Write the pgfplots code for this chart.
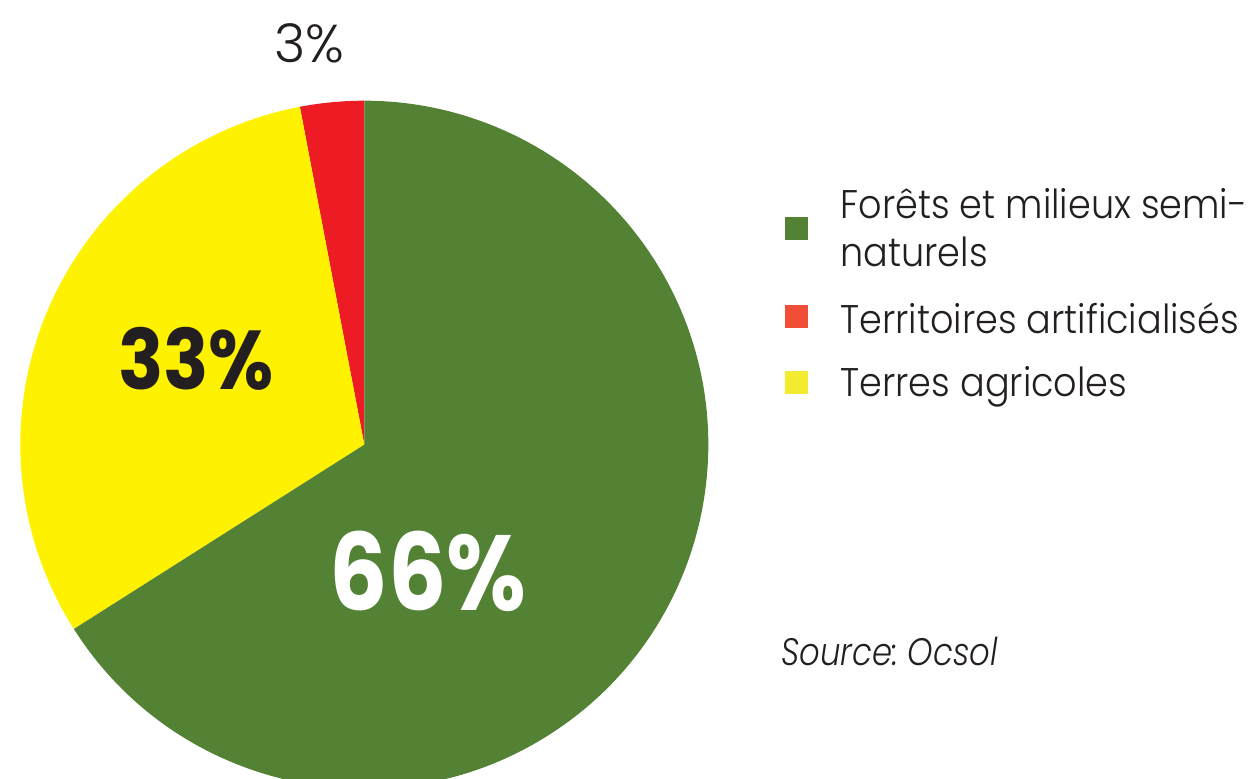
\documentclass[border=0pt]{standalone}
\usepackage{pgfplots}
\pgfplotsset{compat=1.18}
\usepackage{pgfplotstable}
\usepackage{fontspec}
\setmainfont{Poppins}
\newfontfamily\light{Poppins Light}
\definecolor{pgreen}{HTML}{548235}
\definecolor{pred}{HTML}{ED1C24}
\definecolor{pyellow}{HTML}{FFF200}
\definecolor{lred}{HTML}{F04E37}
\definecolor{lyellow}{HTML}{F2EB30}
\definecolor{txt}{HTML}{231F20}
\pgfplotstableread{
label value
forets 66
artificialises 3
agricoles 31
}\piedata
\begin{document}
\frenchspacing
\begin{tikzpicture}
\pgfplotstablegetelem{0}{value}\of\piedata \let\vG\pgfplotsretval
\pgfplotstablegetelem{1}{value}\of\piedata \let\vR\pgfplotsretval
\pgfplotstablegetelem{2}{value}\of\piedata \let\vY\pgfplotsretval
\pgfmathsetmacro\total{\vG+\vR+\vY}
\pgfmathsetmacro\aR{90+360*\vR/\total}
\pgfmathsetmacro\aY{\aR+360*\vY/\total}
\def\rad{103.2pt}
\begin{axis}[hide axis, x=0.3pt, y=0.3pt, xmin=0, xmax=1259, ymin=0, ymax=778,
  clip=false, at={(0,0)}, anchor=south west]
\fill[pred] (axis cs:364.3,333.3) -- ++(90:\rad) arc[start angle=90,end angle=\aR,radius=\rad] -- cycle;
\fill[pyellow] (axis cs:364.3,333.3) -- ++(\aR:\rad) arc[start angle=\aR,end angle=\aY,radius=\rad] -- cycle;
\fill[pgreen] (axis cs:364.3,333.3) -- ++(\aY:\rad) arc[start angle=\aY,end angle=450,radius=\rad] -- cycle;
% labels
\node[anchor=base, text=txt, font=\fontsize{16pt}{18pt}\selectfont\light] at (axis cs:309,715) {3\%};
\node[anchor=base, text=txt, xscale=0.9, font=\fontsize{25pt}{28pt}\selectfont\bfseries] at (axis cs:196,388) {33\%};
\node[anchor=base, text=white, xscale=0.86, font=\fontsize{32pt}{36pt}\selectfont\bfseries] at (axis cs:428,168) {66\%};
% legend
\fill[pgreen] (axis cs:784.5,538) rectangle (axis cs:807.5,561);
\fill[lred] (axis cs:784.5,449.5) rectangle (axis cs:807.5,472.5);
\fill[lyellow] (axis cs:784.5,383.5) rectangle (axis cs:807.5,406.5);
\begin{scope}[every node/.style={anchor=base west, inner sep=0pt, text=txt, xscale=0.915, font=\fontsize{12pt}{14pt}\selectfont\light}]
\node at (axis cs:840,559) {Forêts et milieux semi-};
\node at (axis cs:840,511) {naturels};
\node at (axis cs:840,444.7) {Territoires artificialisés};
\node at (axis cs:840,381) {Terres agricoles};
\node[xscale=0.92, font=\fontsize{11.5pt}{14pt}\selectfont\light\itshape] at (axis cs:781,113) {Source: Ocsol};
\end{scope}
\end{axis}
\pgfresetboundingbox
\path[use as bounding box] (0,0) rectangle (377.7pt,233.4pt);
\end{tikzpicture}
\end{document}
